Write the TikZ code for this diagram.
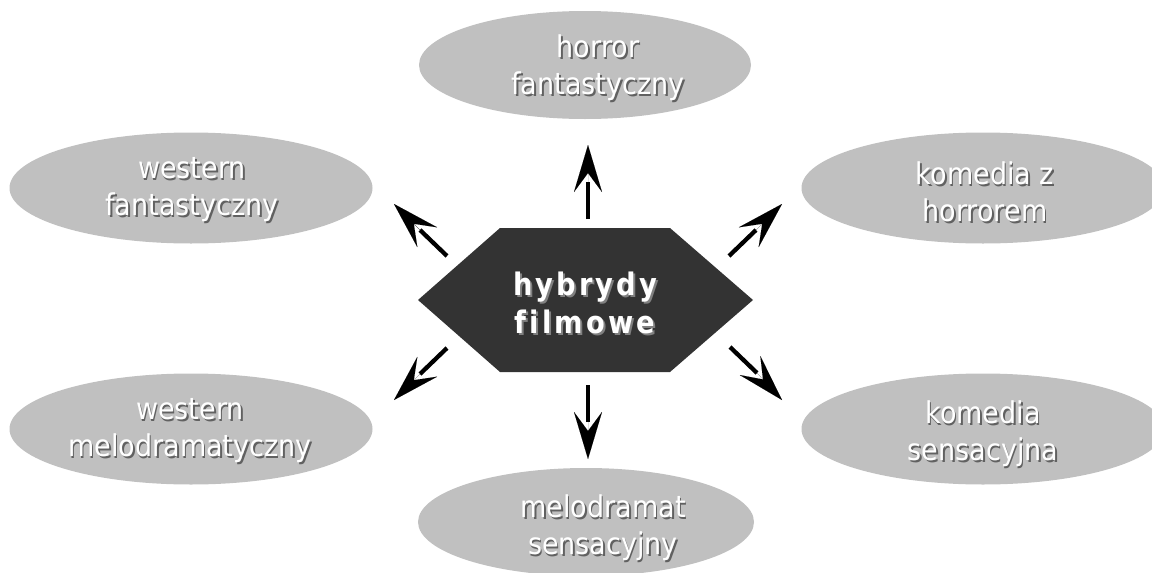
\documentclass[tikz,border=0pt]{standalone}
\usepackage{fontspec}
\setmainfont{DejaVu Sans}
\newfontfamily\ellfont[FakeStretch=0.9]{DejaVu Sans}
\newfontfamily\hexfont[FakeStretch=0.88,LetterSpace=10,Ligatures=NoCommon]{DejaVu Sans Bold}
\usetikzlibrary{arrows.meta,shapes.geometric,calc}
\definecolor{ellgray}{HTML}{C0C0C0}
\definecolor{hexgray}{HTML}{333333}
\tikzset{
  genre/.style={ellipse, fill=ellgray, draw=none, inner sep=0pt},
  gtext/.style={text=white, align=center, font=\ellfont\fontsize{30}{37}\selectfont, inner sep=0pt},
  gshadow/.style={gtext, text=black!62},
  htext/.style={text=white, align=center, font=\hexfont\fontsize{31}{38}\selectfont, inner sep=0pt},
  hshadow/.style={htext, text=black!50},
  shaft/.style={draw=black, line width=4.3pt},
  headtip/.style={draw=black, line width=0.01pt, -{Stealth[length=47pt,width=28pt,inset=19pt]}},
}
\newcommand\genrenode[6]{%
  \node[genre, minimum width=#4pt, minimum height=#5pt] (#1) at (#2,#3) {};
  \node[gshadow] (#1s) at ($(#6)+(1.6,1.6)$) {\csname gt#1\endcsname};
  \node[gtext] (#1t) at (#6) {\csname gt#1\endcsname};
}
\newcommand\gthorror{horror\\fantastyczny}
\newcommand\gtwf{western\\fantastyczny}
\newcommand\gtkh{komedia z\\horrorem}
\newcommand\gtwm{western\\melodramatyczny}
\newcommand\gtks{komedia\\sensacyjna}
\newcommand\gtms{melodramat\\sensacyjny}
\newcommand\myarrow[3]{\draw[shaft] (#1) -- (#2); \draw[headtip] (#2) -- (#3);}
\begin{document}
\begin{tikzpicture}[x=1pt,y=-1pt]
\useasboundingbox (0,0) rectangle (1152,573);
% text anchor coordinates
\coordinate (pHorror) at (598,68);
\coordinate (pWF) at (192,190);
\coordinate (pKH) at (985,192);
\coordinate (pWM) at (190,431);
\coordinate (pKS) at (983,434);
\coordinate (pMS) at (603,528);
\genrenode{horror}{585}{65}{332}{108}{pHorror}
\genrenode{wf}{191}{188}{363}{111}{pWF}
\genrenode{kh}{983}{188}{363}{111}{pKH}
\genrenode{wm}{191}{429}{363}{111}{pWM}
\genrenode{ks}{983}{429}{363}{111}{pKS}
\genrenode{ms}{586}{522}{336}{108}{pMS}
% central hexagon
\fill[hexgray] (418,300) -- (500,228) -- (670,228) -- (753,300) -- (670,372) -- (500,372) -- cycle;
\node[hshadow] (hexs) at (587,305) {hybrydy\\filmowe};
\node[htext] (hex) at (585,303) {hybrydy\\filmowe};
% arrow coordinates
\coordinate (uA) at (588,219); \coordinate (uB) at (588,182); \coordinate (uT) at (588,145);
\coordinate (dA) at (588,385); \coordinate (dB) at (588,422); \coordinate (dT) at (588,459);
\coordinate (nwA) at (447,256); \coordinate (nwB) at (420,230); \coordinate (nwT) at (394,204);
\coordinate (neA) at (729,256); \coordinate (neB) at (756,230); \coordinate (neT) at (782,204);
\coordinate (swA) at (447,348); \coordinate (swB) at (420,374); \coordinate (swT) at (394,400);
\coordinate (seA) at (730,347); \coordinate (seB) at (757,373); \coordinate (seT) at (782,400);
\myarrow{uA}{uB}{uT}
\myarrow{dA}{dB}{dT}
\myarrow{nwA}{nwB}{nwT}
\myarrow{neA}{neB}{neT}
\myarrow{swA}{swB}{swT}
\myarrow{seA}{seB}{seT}
\end{tikzpicture}
\end{document}
